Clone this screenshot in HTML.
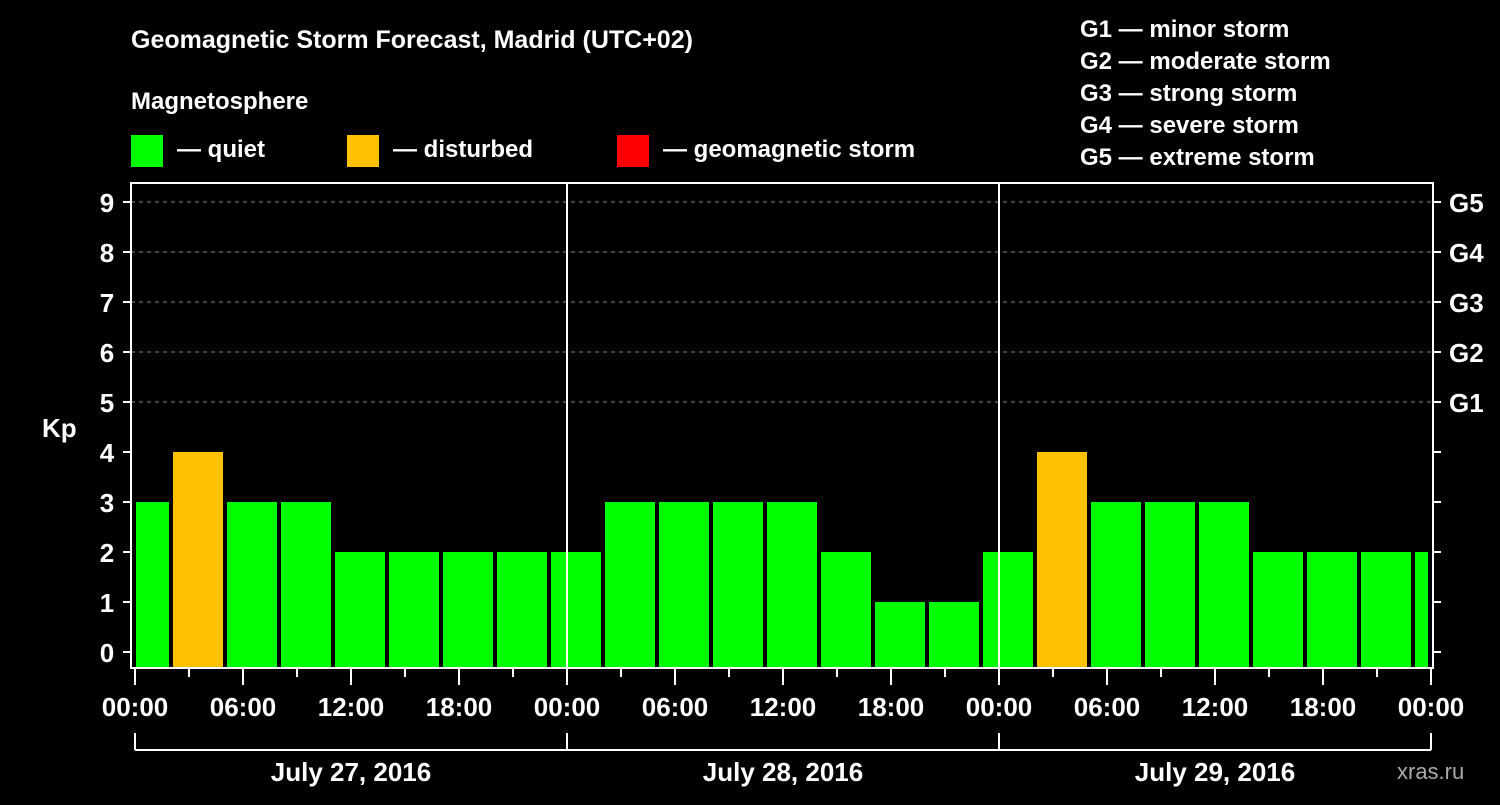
<!DOCTYPE html>
<html><head><meta charset="utf-8"><style>
body{margin:0;background:#000;width:1500px;height:800px;overflow:hidden}
text{font-family:"Liberation Sans",Arial,sans-serif;font-weight:bold;fill:#fff}
</style></head><body>
<svg id="chart" width="1500" height="800" xmlns="http://www.w3.org/2000/svg">
<rect width="1500" height="800" fill="#000"/>
<text x="131" y="48" font-size="25">Geomagnetic Storm Forecast, Madrid (UTC+02)</text>
<text x="131" y="109" font-size="24">Magnetosphere</text>
<g><rect x="131" y="135" width="32" height="32" fill="#00ff00"/><text x="177" y="157" font-size="24">— quiet</text></g>
<g><rect x="347" y="135" width="32" height="32" fill="#ffc000"/><text x="393" y="157" font-size="24">— disturbed</text></g>
<g><rect x="617" y="135" width="32" height="32" fill="#ff0000"/><text x="663" y="157" font-size="24">— geomagnetic storm</text></g>
<g font-size="24">
<text x="1080" y="37">G1 — minor storm</text>
<text x="1080" y="69">G2 — moderate storm</text>
<text x="1080" y="101">G3 — strong storm</text>
<text x="1080" y="133">G4 — severe storm</text>
<text x="1080" y="165">G5 — extreme storm</text>
</g>
<text x="42" y="437" font-size="26">Kp</text>
<text x="1397" y="779" font-size="22" fill="#aaa" style="fill:#aaa;font-weight:normal">xras.ru</text>
<defs><clipPath id="pc"><rect x="136" y="183" width="1292" height="485"/></clipPath></defs>
<g id="grid"></g>
<g id="bars" clip-path="url(#pc)"></g>
<g id="axes"></g>
</svg>
<script>
const kpValues=[3,4,3,3,2,2,2,2,2,3,3,3,3,2,1,1,2,4,3,3,3,2,2,2,2];
const yTicks=[0,1,2,3,4,5,6,7,8,9];
const gLabels=["G1","G2","G3","G4","G5"];
const gLevels=[5,6,7,8,9];
const xTickLabels=["00:00","06:00","12:00","18:00","00:00","06:00","12:00","18:00","00:00","06:00","12:00","18:00","00:00"];
const dayLabels=["July 27, 2016","July 28, 2016","July 29, 2016"];
const NS="http://www.w3.org/2000/svg";
const X0=135,PXH=18,Y0=652,PXU=50,BOT=668,TOP=183,L=131,R=1433;
const xs=h=>X0+h*PXH, ys=v=>Y0-v*PXU;
function mk(tag,attrs,parent,txt){const e=document.createElementNS(NS,tag);for(const k in attrs)e.setAttribute(k,attrs[k]);if(txt!==undefined)e.textContent=txt;parent.appendChild(e);return e;}
const grid=document.getElementById('grid'),bars=document.getElementById('bars'),axes=document.getElementById('axes');
gLevels.forEach((v,i)=>{
 const l=mk('line',{x1:L,x2:R,y1:ys(v),y2:ys(v),stroke:'#888','stroke-dasharray':'4,4','stroke-width':1},grid);
 
 
 const t=mk('text',{x:1449,y:ys(v)+10,'font-size':26},axes,gLabels[i]);
 
 
});
kpValues.forEach((v,k)=>{
 const h=(k-1)*3+2;
 const c=v>=5?'#ff0000':(v>=4?'#ffc000':'#00ff00');
 const b=mk('rect',{x:xs(h)+2,y:ys(v),width:3*PXH-4,height:BOT-ys(v),fill:c},bars);
 
 
});
const fr=mk('rect',{x:L,y:TOP,width:R-L,height:BOT-TOP,fill:'none',stroke:'#fff','stroke-width':2},axes);


[24,48].forEach(h=>{const d=mk('line',{x1:xs(h),x2:xs(h),y1:TOP,y2:BOT,stroke:'#fff','stroke-width':2},axes);
 
 });
yTicks.forEach(v=>{
 mk('line',{x1:L-8,x2:L,y1:ys(v),y2:ys(v),stroke:'#fff','stroke-width':2},axes);
 mk('line',{x1:R,x2:R+8,y1:ys(v),y2:ys(v),stroke:'#fff','stroke-width':2},axes);
 const t=mk('text',{x:107,y:ys(v)+10,'font-size':26,'text-anchor':'middle'},axes,String(v));
 
 
});
for(let h=0;h<=72;h+=3){const long=h%6===0;
 mk('line',{x1:xs(h),x2:xs(h),y1:BOT,y2:BOT+(long?17:9),stroke:'#fff','stroke-width':2},axes);}
xTickLabels.forEach((s,i)=>{const t=mk('text',{x:xs(i*6),y:716,'font-size':26,'text-anchor':'middle'},axes,s);
 
 });
mk('line',{x1:xs(0),x2:xs(72),y1:750,y2:750,stroke:'#fff','stroke-width':2},axes);
[0,24,48,72].forEach(h=>mk('line',{x1:xs(h),x2:xs(h),y1:733,y2:750,stroke:'#fff','stroke-width':2},axes));
dayLabels.forEach((s,i)=>{const t=mk('text',{x:xs(i*24+12),y:781,'font-size':26,'text-anchor':'middle'},axes,s);
 
 });
</script>
</body></html>
